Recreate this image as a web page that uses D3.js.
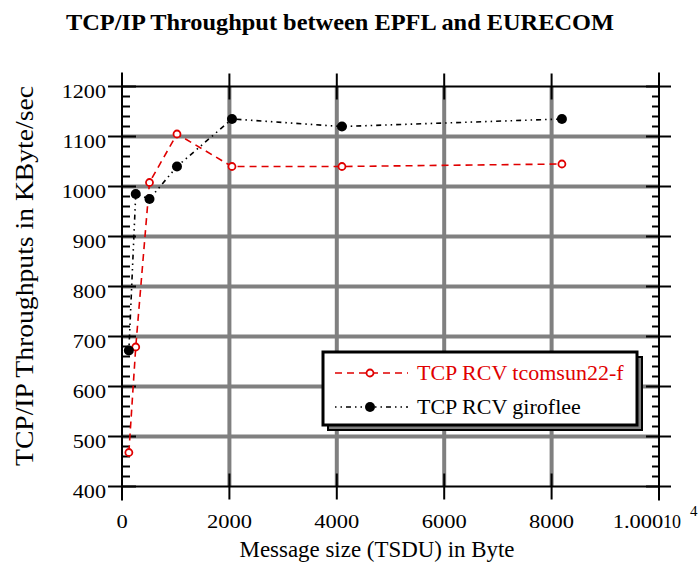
<!DOCTYPE html>
<html>
<head>
<meta charset="utf-8">
<script src="https://cdn.jsdelivr.net/npm/d3@7"></script>
<style>
  body { margin: 0; background: #fff; }
  svg text { font-family: 'Liberation Serif', 'Times New Roman', serif; }
</style>
</head>
<body>
<div id="chart"></div>
<script>
// message sizes (TSDU) in byte
const sizes = [128, 256, 512, 1024, 2048, 4096, 8192];
// throughput in KByte/sec
const tcomsun = [468, 679, 1008, 1105, 1040, 1040, 1045];
const giroflee = [672, 985, 975, 1040, 1135, 1120, 1135];

const seriesNames = ['TCP RCV tcomsun22-f', 'TCP RCV giroflee'];
const xTicks = [0, 2000, 4000, 6000, 8000, 10000];
const yTicks = [400, 500, 600, 700, 800, 900, 1000, 1100, 1200];

const w = 699,
  h = 566;

const svg = d3
  .select('#chart')
  .append('svg')
  .attr('width', w)
  .attr('height', h);

const x = d3.scaleLinear().domain([0, 10000]).range([122, 659]);
const y = d3.scaleLinear().domain([400, 1200]).range([486.5, 86.5]);

const pLeft = x(0),
  pRight = x(10000),
  pTop = y(1200),
  pBottom = y(400);

// stretch tick digits a bit, like the original
const widen = (sel, k) => {
  sel.each(function () {
    const len = this.getComputedTextLength();
    d3.select(this)
      .attr('textLength', len * k)
      .attr('lengthAdjust', 'spacingAndGlyphs');
  });
};

// title
svg
  .append('text')
  .attr('x', 340)
  .attr('y', 30)
  .attr('text-anchor', 'middle')
  .style('font-size', '24px')
  .style('font-weight', 'bold')
  .attr('textLength', 548)
  .attr('lengthAdjust', 'spacingAndGlyphs')
  .text('TCP/IP Throughput between EPFL and EURECOM');

// grid
const grid = svg.append('g').attr('class', 'grid');

grid
  .selectAll('line.h')
  .data(yTicks.filter((d) => d > 400 && d < 1200))
  .enter()
  .append('line')
  .attr('x1', pLeft)
  .attr('x2', pRight)
  .attr('y1', (d) => y(d))
  .attr('y2', (d) => y(d))
  .attr('stroke', '#808080')
  .attr('stroke-width', 4);

grid
  .selectAll('line.v')
  .data(xTicks.filter((d) => d > 0 && d < 10000))
  .enter()
  .append('line')
  .attr('x1', (d) => x(d))
  .attr('x2', (d) => x(d))
  .attr('y1', pTop)
  .attr('y2', pBottom)
  .attr('stroke', '#808080')
  .attr('stroke-width', 4);

// frame + ticks
const frame = svg
  .append('g')
  .attr('stroke', '#000')
  .attr('stroke-width', 2)
  .attr('fill', 'none');

frame.append('line').attr('x1', pLeft).attr('x2', pLeft).attr('y1', pTop - 14).attr('y2', pBottom + 14);
frame.append('line').attr('x1', pRight).attr('x2', pRight).attr('y1', pTop - 14).attr('y2', pBottom + 14);
frame.append('line').attr('x1', pLeft).attr('x2', pRight).attr('y1', pTop).attr('y2', pTop);
frame.append('line').attr('x1', pLeft).attr('x2', pRight).attr('y1', pBottom).attr('y2', pBottom);

// y major ticks (both sides)
frame
  .selectAll('line.ymaj')
  .data(yTicks)
  .enter()
  .append('line')
  .attr('x1', pLeft - 14)
  .attr('x2', pLeft + 14)
  .attr('y1', (d) => y(d))
  .attr('y2', (d) => y(d));

frame
  .selectAll('line.ymajr')
  .data(yTicks)
  .enter()
  .append('line')
  .attr('x1', pRight - 13)
  .attr('x2', pRight + 12)
  .attr('y1', (d) => y(d))
  .attr('y2', (d) => y(d));

// y minor ticks
const yMinor = d3.range(400, 1200, 20).filter((d) => d % 100 !== 0);

frame
  .selectAll('line.ymin')
  .data(yMinor)
  .enter()
  .append('line')
  .attr('x1', pLeft)
  .attr('x2', pLeft + 8)
  .attr('y1', (d) => y(d))
  .attr('y2', (d) => y(d));

frame
  .selectAll('line.yminr')
  .data(yMinor)
  .enter()
  .append('line')
  .attr('x1', pRight - 7)
  .attr('x2', pRight)
  .attr('y1', (d) => y(d))
  .attr('y2', (d) => y(d));

// x major ticks (top and bottom)
const xInner = xTicks.filter((d) => d > 0 && d < 10000);

frame
  .selectAll('line.xmaj')
  .data(xInner)
  .enter()
  .append('line')
  .attr('x1', (d) => x(d))
  .attr('x2', (d) => x(d))
  .attr('y1', pBottom - 13)
  .attr('y2', pBottom + 13);

frame
  .selectAll('line.xmajt')
  .data(xInner)
  .enter()
  .append('line')
  .attr('x1', (d) => x(d))
  .attr('x2', (d) => x(d))
  .attr('y1', pTop - 13)
  .attr('y2', pTop + 13);

// tick labels
const yLabels = svg
  .append('g')
  .selectAll('text')
  .data(yTicks)
  .enter()
  .append('text')
  .attr('x', 106)
  .attr('y', (d) => y(d) + 11)
  .attr('text-anchor', 'end')
  .style('font-size', '18px')
  .text((d) => d);
widen(yLabels, 1.23);

const xLabels = svg
  .append('g')
  .selectAll('text')
  .data(xTicks.filter((d) => d < 10000))
  .enter()
  .append('text')
  .attr('x', (d) => x(d))
  .attr('y', 528)
  .attr('text-anchor', 'middle')
  .style('font-size', '18px')
  .text((d) => d);
widen(xLabels, 1.25);

// last label carries the 10^4 factor
const lastLabel = svg
  .append('text')
  .attr('x', x(10000) - 21)
  .attr('y', 528)
  .attr('text-anchor', 'middle')
  .style('font-size', '18px')
  .text((xTicks[xTicks.length - 1] / 1e4).toFixed(3));
widen(lastLabel, 1.25);

svg
  .append('text')
  .attr('x', x(10000) + 4)
  .attr('y', 528)
  .style('font-size', '18px')
  .text('10');
svg
  .append('text')
  .attr('x', x(10000) + 31)
  .attr('y', 516)
  .style('font-size', '15px')
  .text('4');

// axis titles
svg
  .append('text')
  .attr('x', 377)
  .attr('y', 557)
  .attr('text-anchor', 'middle')
  .style('font-size', '23px')
  .attr('textLength', 275)
  .attr('lengthAdjust', 'spacingAndGlyphs')
  .text('Message size (TSDU) in Byte');

svg
  .append('text')
  .attr('transform', 'translate(33,276) rotate(-90)')
  .attr('text-anchor', 'middle')
  .style('font-size', '26px')
  .attr('textLength', 380)
  .attr('lengthAdjust', 'spacingAndGlyphs')
  .text('TCP/IP Throughputs in KByte/sec');

// series
const line = d3
  .line()
  .x((d) => x(d[0]))
  .y((d) => y(d[1]));

const redData = d3.zip(sizes, tcomsun),
  blackData = d3.zip(sizes, giroflee);

const plot = svg.append('g');

plot
  .append('path')
  .attr('d', line(redData))
  .attr('fill', 'none')
  .attr('stroke', '#e00000')
  .attr('stroke-width', 1.6)
  .attr('stroke-dasharray', '7,5');

plot
  .append('path')
  .attr('d', line(blackData))
  .attr('fill', 'none')
  .attr('stroke', '#000')
  .attr('stroke-width', 1.6)
  .attr('stroke-dasharray', '1.5,4,1.5,4,5,4');

plot
  .selectAll('circle.red')
  .data(redData)
  .enter()
  .append('circle')
  .attr('cx', (d) => x(d[0]))
  .attr('cy', (d) => y(d[1]))
  .attr('r', 3.5)
  .attr('fill', '#fff')
  .attr('stroke', '#e00000')
  .attr('stroke-width', 1.8);

plot
  .selectAll('circle.black')
  .data(blackData)
  .enter()
  .append('circle')
  .attr('cx', (d) => x(d[0]))
  .attr('cy', (d) => y(d[1]))
  .attr('r', 5)
  .attr('fill', '#000');

// legend
const lg = svg.append('g').attr('transform', 'translate(323,352)');

lg.append('rect')
  .attr('x', 5)
  .attr('y', 5)
  .attr('width', 314)
  .attr('height', 73)
  .attr('fill', '#808080')
  .attr('stroke', '#000')
  .attr('stroke-width', 2);

lg.append('rect')
  .attr('x', 0)
  .attr('y', 0)
  .attr('width', 314)
  .attr('height', 73)
  .attr('fill', '#fff')
  .attr('stroke', '#000')
  .attr('stroke-width', 3);

const legendItems = [
  { name: seriesNames[0], color: '#e00000', dash: '7,5', open: true },
  { name: seriesNames[1], color: '#000', dash: '1.5,4,1.5,4,5,4', open: false },
];

const item = lg
  .selectAll('g.item')
  .data(legendItems)
  .enter()
  .append('g')
  .attr('transform', (d, i) => `translate(0,${21 + i * 34})`);

item
  .append('line')
  .attr('x1', 12)
  .attr('x2', 85)
  .attr('y1', 0)
  .attr('y2', 0)
  .attr('stroke', (d) => d.color)
  .attr('stroke-width', 1.6)
  .attr('stroke-dasharray', (d) => d.dash);

item
  .append('circle')
  .attr('cx', 47)
  .attr('cy', 0)
  .attr('r', (d) => (d.open ? 3.5 : 5))
  .attr('fill', (d) => (d.open ? '#fff' : d.color))
  .attr('stroke', (d) => (d.open ? d.color : 'none'))
  .attr('stroke-width', 1.8);

item
  .append('text')
  .attr('x', 94)
  .attr('y', 7)
  .style('font-size', '22px')
  .attr('fill', (d) => d.color)
  .text((d) => d.name);
</script>
</body>
</html>
